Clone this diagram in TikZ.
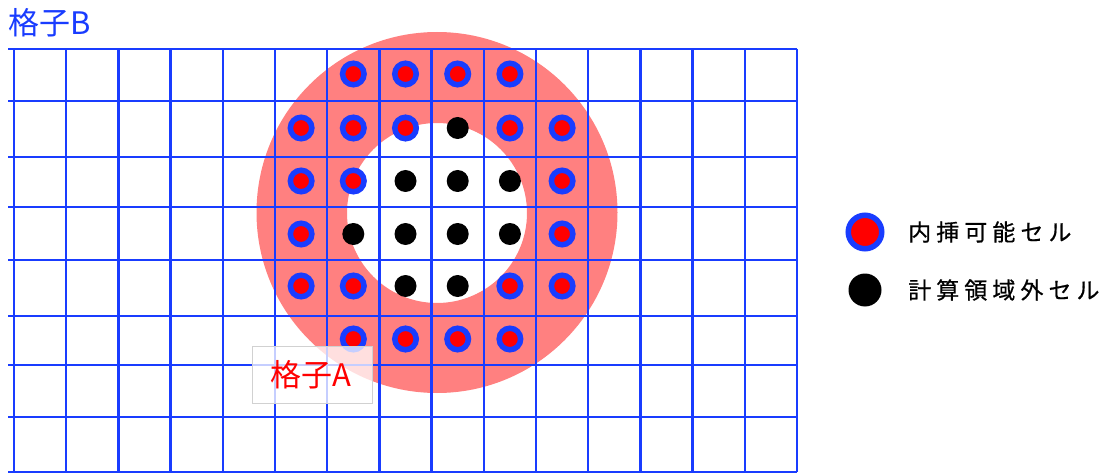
\documentclass[tikz,border=0pt]{standalone}
\usepackage{fontspec}
\newfontfamily\jp{Noto Sans CJK JP}
\newfontfamily\jplg{Noto Sans CJK JP}[LetterSpace=22,FakeBold=0.6]
\definecolor{gridblue}{RGB}{25,60,255}
\definecolor{ringred}{RGB}{255,128,128}
\begin{document}
\begin{tikzpicture}[x=1pt,y=-1pt,
  gridline/.style={draw=gridblue,line width=2.3pt},
  interp/.style={circle,draw=gridblue,fill=red,line width=5.5pt,minimum size=21.5pt,inner sep=0pt},
  outside/.style={circle,fill=black,minimum size=22pt,inner sep=0pt},
  interpbig/.style={circle,draw=gridblue,fill=red,line width=5.5pt,minimum size=33.5pt,inner sep=0pt},
  outsidebig/.style={circle,fill=black,minimum size=33pt,inner sep=0pt},
  legendtext/.style={anchor=west,inner sep=0pt,font=\jplg\fontsize{23}{26}\selectfont},
  gridlabel/.style={inner sep=0pt,font=\jp\fontsize{31}{34}\selectfont}]
\useasboundingbox (0,0) rectangle (1109,476);
% ring of grid A
\fill[ringred,even odd rule] (437,212.5) circle[radius=180.5] (437,213) circle[radius=90];
% grid B
\foreach \yy in {49,101,157,207,260,316,365,417,472}
  \draw[gridline] (8,\yy) -- (797,\yy);
\foreach \i in {0,...,15}
  \draw[gridline] ({14+\i*52.2},49) -- ({14+\i*52.2},472);
% dots
\foreach \c/\r [count=\k] in {6/74,7/74,8/74,9/74,5/128,6/128,7/128,9/128,10/128,5/181,6/181,10/181,5/234,10/234,5/286,6/286,9/286,10/286,6/339,7/339,8/339,9/339}
  \node[interp] (p\k) at ({14+(\c+0.5)*52.2},\r) {};
\foreach \c/\r [count=\k] in {8/128,7/181,8/181,9/181,6/234,7/234,8/234,9/234,7/286,8/286}
  \node[outside] (q\k) at ({14+(\c+0.5)*52.2},\r) {};
% labels
\node[gridlabel,text=gridblue,anchor=west] (lb) at (8,23) {格子B};
\node[draw=black!18,fill=white,fill opacity=0.75,text opacity=1,minimum width=120pt,minimum height=57pt,inner sep=0pt] (la) at (312,374.5) {};
\node[gridlabel,text=red] (lat) at (311,375) {格子A};
% legend
\node[interpbig] (k1) at (865,232) {};
\node[legendtext] (t1) at (908,232) {内挿可能セル};
\node[outsidebig] (k2) at (865,290) {};
\node[legendtext] (t2) at (908,290) {計算領域外セル};
\end{tikzpicture}
\end{document}
